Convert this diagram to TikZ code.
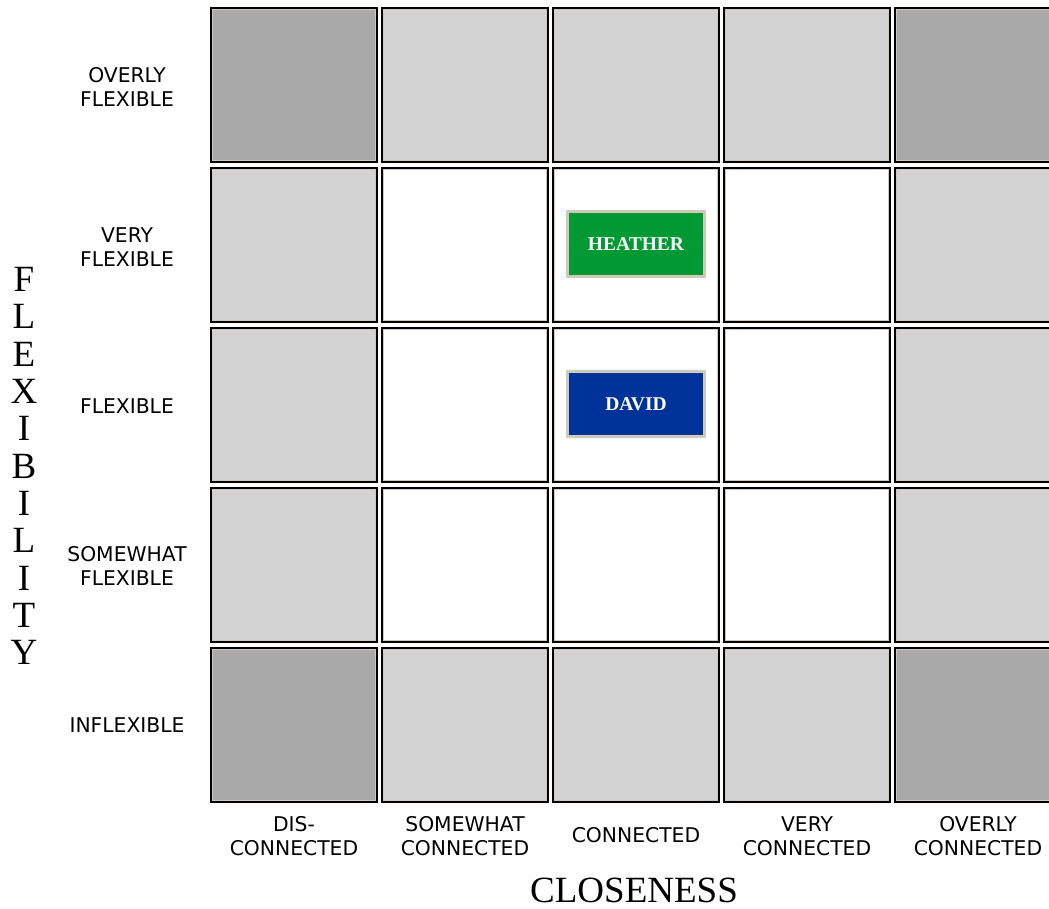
\documentclass[tikz,border=0pt]{standalone}
\usepackage{fontspec}
\setmainfont{Liberation Serif}
\newfontfamily\labfont{DejaVu Sans}
\definecolor{darkcell}{HTML}{A9A9A9}
\definecolor{lightcell}{HTML}{D3D3D3}
\definecolor{bevelc}{HTML}{CFCAB8}
\definecolor{heathergreen}{HTML}{009933}
\definecolor{davidblue}{HTML}{003399}
\tikzset{
  cell/.style={draw=black, line width=2.4pt, minimum width=165.6pt, minimum height=153.6pt, inner sep=0pt},
  bevel/.style={draw=bevelc, line width=1.5pt},
  lab/.style={font=\labfont\fontsize{20.3}{24}\selectfont, align=center, text=black},
  namebox/.style={draw=bevelc, line width=3pt, minimum width=137pt, minimum height=65pt, inner sep=0pt,
    text=white, font=\bfseries\fontsize{19.5}{22}\selectfont},
  axis/.style={font=\fontsize{37}{37.3}\selectfont, align=center}
}
\begin{document}
\begin{tikzpicture}[x=1pt,y=-1pt]
\clip (0,0) rectangle (1049,908);
\fill[white] (0,0) rectangle (1049,908);
% grid cells
\foreach \r in {0,...,4}{
  \foreach \k in {0,...,4}{
    \pgfmathtruncatemacro{\edge}{(\r==0||\r==4||\k==0||\k==4)?1:0}
    \pgfmathtruncatemacro{\corner}{((\r==0||\r==4)&&(\k==0||\k==4))?1:0}
    \ifnum\corner=1 \def\cf{darkcell}\else\ifnum\edge=1 \def\cf{lightcell}\else\def\cf{white}\fi\fi
    \node[cell, fill=\cf] (c-\r-\k) at ({294+171*\k},{85+160*\r}) {};
    \draw[bevel] ([shift={(2.7pt,-2.7pt)}]c-\r-\k.north west) rectangle ([shift={(-2.7pt,2.7pt)}]c-\r-\k.south east);
  }
}
% name boxes
\node[namebox, fill=heathergreen] (heather) at (636,244) {HEATHER};
\node[namebox, fill=davidblue] (david) at (636,404) {DAVID};
% row labels
\node[lab] (r0) at (127,87) {OVERLY\\FLEXIBLE};
\node[lab] (r1) at (127,247) {VERY\\FLEXIBLE};
\node[lab] (r2) at (127,406) {FLEXIBLE};
\node[lab] (r3) at (127,566) {SOMEWHAT\\FLEXIBLE};
\node[lab] (r4) at (127,725) {INFLEXIBLE};
% column labels
\node[lab] (k0) at (294,836) {DIS-\\CONNECTED};
\node[lab] (k1) at (465,836) {SOMEWHAT\\CONNECTED};
\node[lab] (k2) at (636,835) {CONNECTED};
\node[lab] (k3) at (807,836) {VERY\\CONNECTED};
\node[lab] (k4) at (978,836) {OVERLY\\CONNECTED};
% axis titles
\node[axis] (closeness) at (634,890) {CLOSENESS};
\node[axis] (flex) at (24,466) {F\\L\\E\\X\\I\\B\\I\\L\\I\\T\\Y};
\end{tikzpicture}
\end{document}
